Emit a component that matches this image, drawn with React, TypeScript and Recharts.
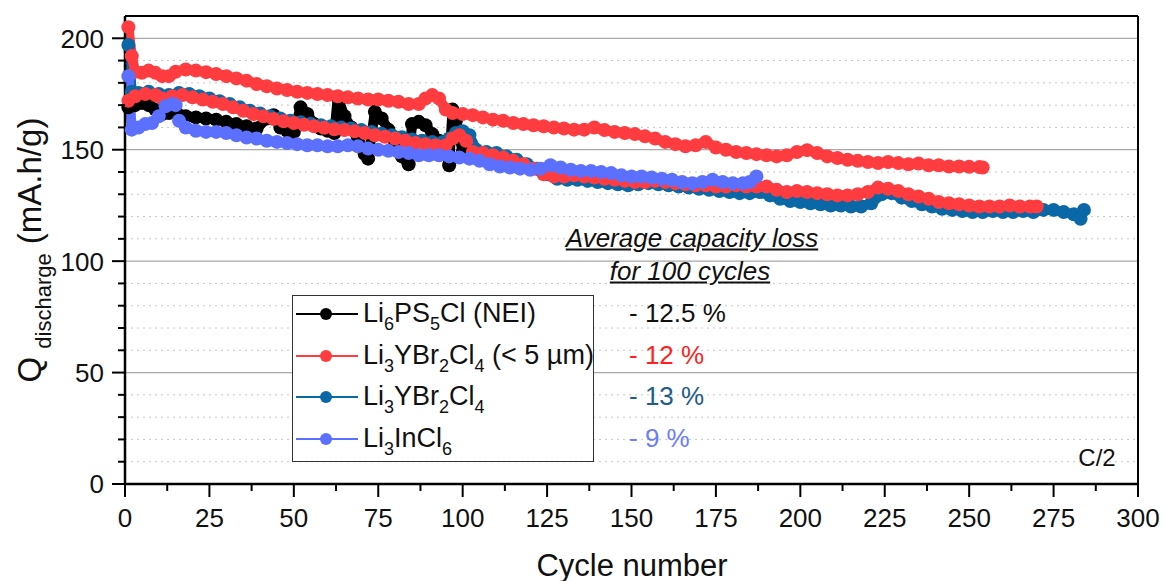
import { LineChart, Line, XAxis, YAxis, ReferenceLine } from 'recharts';

const font = "'Liberation Sans', Arial, Helvetica, sans-serif";

const black = '#000000';
const red = '#ff3c3f';
const blue = '#0a68a6';
const violet = '#5c70ff';

// [cycle, Q discharge mA.h/g]
const nei = [
  [1, 169], [3, 170], [5, 171], [7, 170], [9, 168], [11, 166], [13, 166.5], [15, 167], [18, 165], [21, 164.5],
  [24, 164], [27, 163.5], [30, 162.5], [33, 161.5], [36, 160.5], [39, 159.5], [42, 164], [44, 165.5], [46, 160],
  [48, 158.5], [50, 158], [52, 169], [54, 166], [56, 161.5], [58, 159.5], [60, 158.5], [62, 157.5], [63, 173.5],
  [65, 165], [67, 160], [69, 154], [71, 148], [72, 146], [74, 167], [76, 164], [78, 159], [80, 153], [82, 147],
  [84, 143.5], [85, 161.5], [87, 162.5], [89, 161], [91, 157], [93, 154], [95, 149], [96, 143], [97, 168],
  [98, 163], [99, 156], [100, 149],
];

const ybcFine = [
  [1, 205], [2, 192], [3, 185], [5, 184.5], [7, 185.5], [9, 184.5], [11, 183], [13, 183], [15, 185], [18, 186],
  [21, 185.5], [24, 184.8], [27, 184], [30, 183], [33, 182], [36, 181], [39, 179.5], [42, 178.5], [45, 177.5],
  [48, 176.8], [51, 176], [54, 175.5], [57, 175], [60, 174.5], [63, 174], [66, 173.5], [69, 173], [72, 172.5],
  [75, 172.5], [78, 172], [81, 171.5], [84, 170.5], [87, 170.5], [89, 173], [91, 174.5], [93, 173], [95, 168],
  [97, 166.5], [100, 166], [103, 165.5], [106, 164.5], [109, 163.5], [112, 163], [115, 162], [118, 161.5],
  [121, 161], [124, 160.5], [127, 160], [130, 159.5], [133, 159], [136, 159], [139, 160], [142, 158.8], [145, 158],
  [148, 157.5], [151, 157], [154, 156], [157, 155], [160, 153.5], [163, 152.5], [166, 151.5], [169, 152],
  [172, 153.5], [175, 151], [178, 150], [181, 149], [184, 148.5], [187, 148], [190, 147.5], [193, 147],
  [196, 147.5], [199, 149], [202, 149.8], [205, 148.5], [208, 147], [211, 146.3], [214, 145.5], [217, 145],
  [220, 144.5], [223, 144], [226, 144.5], [229, 144], [232, 143.5], [235, 143.8], [238, 143], [241, 143],
  [244, 142.5], [247, 142.5], [250, 142.3], [253, 142.2], [254, 142],
];

const ybcFine2 = [
  [1, 172], [3, 174], [6, 175], [9, 174.5], [11, 173], [14, 174], [17, 174.5], [20, 173.5], [23, 172.5],
  [26, 171.5], [29, 170.5], [32, 169], [35, 167.5], [38, 166], [41, 165], [44, 163.8], [47, 162.8], [50, 162],
  [53, 161.2], [56, 160.5], [59, 159.8], [62, 159.2], [65, 158.8], [68, 158.3], [71, 157.5], [74, 156.5],
  [77, 155.8], [80, 155], [83, 154], [86, 153], [89, 152.5], [92, 152], [95, 152], [97, 155], [99, 156.5],
  [101, 154], [103, 149], [106, 148.5], [109, 147.5], [112, 146.5], [115, 145], [118, 143.5], [121, 141.5],
  [124, 139], [127, 138], [130, 138], [133, 138.5], [136, 138], [139, 137.5], [142, 137], [145, 136.5],
  [148, 136], [151, 135.5], [154, 135.5], [157, 136], [160, 135.5], [163, 135], [166, 134.5], [169, 134],
  [172, 134], [175, 133.5], [178, 133.5], [181, 134], [184, 133.5], [187, 133.5], [190, 133.5], [193, 132],
  [196, 131], [199, 131.5], [202, 131], [205, 130.5], [208, 130], [211, 129.5], [214, 129.5], [217, 130],
  [220, 131], [223, 133], [226, 132.5], [229, 131.5], [232, 130], [235, 129], [238, 128], [241, 126.5],
  [244, 126], [247, 125.5], [250, 125], [253, 124.5], [256, 124.5], [259, 124.5], [262, 125], [265, 124.5],
  [268, 124.5], [270, 124.5],
];

const ybc = [
  [1, 197], [2, 176], [4, 175.5], [7, 176], [10, 175], [13, 174.5], [16, 175.5], [19, 175], [22, 174], [25, 173],
  [28, 171.8], [31, 170.5], [34, 169], [37, 167.5], [40, 166.3], [43, 165], [46, 164], [49, 163], [52, 162.3],
  [55, 161.7], [58, 161], [61, 160.5], [64, 160], [67, 159.5], [70, 158.8], [73, 158], [76, 157.2], [79, 156.5],
  [82, 155.6], [85, 154.6], [88, 154], [91, 153.5], [94, 153.3], [96, 155], [98, 157.5], [100, 158.3],
  [102, 156.5], [104, 150], [107, 149], [110, 148.5], [113, 147], [116, 145.5], [119, 143.5], [122, 141.5],
  [125, 139], [128, 137], [131, 136.5], [134, 136.5], [137, 136], [140, 135.5], [143, 135], [146, 134.5],
  [149, 134], [152, 134.5], [155, 135], [158, 134.5], [161, 134], [164, 133.5], [167, 133], [170, 132.5],
  [173, 132], [176, 131.5], [179, 131], [182, 130.5], [185, 130.5], [188, 131], [191, 129.5], [194, 128],
  [197, 127], [200, 126.5], [203, 126], [206, 125.5], [209, 125], [212, 125], [215, 124.5], [218, 124.5],
  [221, 126], [224, 130], [227, 130.5], [230, 128.5], [233, 127], [236, 125.5], [239, 124.5], [242, 123.5],
  [245, 123], [248, 122.5], [251, 122], [254, 122], [257, 122.5], [260, 122], [263, 122], [266, 122.5],
  [269, 122], [272, 123], [275, 123], [278, 122], [281, 121], [283, 119], [284, 123],
];

const inCl = [
  [1, 183], [2, 159], [4, 160], [6, 161.5], [8, 162], [10, 165], [12, 169.5], [14, 170.5], [15, 170], [16, 163],
  [18, 160], [21, 158.5], [24, 158], [27, 158], [30, 157.5], [33, 156.5], [36, 155.5], [39, 155], [42, 154],
  [45, 153.5], [48, 153], [51, 152.5], [54, 152], [57, 152], [60, 151.5], [63, 151.5], [66, 152], [69, 151.5],
  [72, 150.5], [75, 150], [78, 149.5], [81, 149], [84, 148.5], [87, 147.5], [90, 147.5], [93, 147.5], [96, 147],
  [99, 146.5], [102, 146], [105, 145], [108, 143.5], [111, 142.5], [114, 142], [117, 141.5], [120, 141],
  [123, 141.5], [126, 143], [129, 142], [132, 141], [135, 140.5], [138, 140.5], [141, 140], [144, 139.5],
  [147, 138.5], [150, 138], [153, 138], [156, 137.5], [159, 137], [162, 136.5], [165, 135.5], [168, 135],
  [171, 135.5], [174, 136.5], [177, 135.5], [180, 135], [183, 135], [185, 135.5], [187, 138],
];

const xTicks = [0, 12.5, 25, 37.5, 50, 62.5, 75, 87.5, 100, 112.5, 125, 137.5, 150, 162.5, 175, 187.5, 200, 212.5, 225, 237.5, 250, 262.5, 275, 287.5, 300];
const yTicks = [0, 10, 20, 30, 40, 50, 60, 70, 80, 90, 100, 110, 120, 130, 140, 150, 160, 170, 180, 190, 200];
const majorGrid = [50, 100, 150, 200];
const minorGrid = [10, 20, 30, 40, 60, 70, 80, 90, 110, 120, 130, 140, 160, 170, 180, 190];

const legendLabels = ['Li_6PS_5Cl (NEI)', 'Li_3YBr_2Cl_4 (< 5 µm)', 'Li_3YBr_2Cl_4', 'Li_3InCl_6'];
const legendColors = [black, red, blue, violet];
const lossLabels = ['- 12.5 %', '- 12 %', '- 13 %', '- 9 %'];
const lossColors = ['#111111', '#ff1f1f', '#1d5d88', '#6b7cff'];

const toRows = (pts: number[][]) => pts.map(([c, q]) => ({ c, q }));

function XTick(props: any) {
  const { x, y, payload } = props;
  const v = payload.value;
  const major = v % 25 === 0;
  return (
    <g>
      <line x1={x} x2={x} y1={y} y2={y + (major ? 13 : 7)} stroke="#000" strokeWidth={2} />
      {major && (
        <text x={x} y={y + 43} textAnchor="middle" fontSize={26} fontFamily={font} fill="#111">
          {v}
        </text>
      )}
    </g>
  );
}

function YTick(props: any) {
  const { x, y, payload } = props;
  const v = payload.value;
  const major = v % 50 === 0;
  return (
    <g>
      <line x1={x - (major ? 13 : 7)} x2={x} y1={y} y2={y} stroke="#000" strokeWidth={2} />
      {major && (
        <text x={x - 21} y={y} dy="0.36em" textAnchor="end" fontSize={26} fontFamily={font} fill="#111">
          {v}
        </text>
      )}
    </g>
  );
}

function Chem({ text, size, sub }: { text: string; size: number; sub: number }) {
  const parts = text.split(/_(\d)/);
  return (
    <>
      {parts.map((p, i) =>
        i % 2 === 1 ? (
          <span key={i} style={{ fontSize: sub, position: 'relative', top: 8 }}>{p}</span>
        ) : (
          <span key={i} style={{ fontSize: size }}>{p}</span>
        )
      )}
    </>
  );
}

// thick stroke + big markers so the per-cycle points merge into a band, as in the original plot
function series(data: number[][], color: string) {
  return (
    <Line
      data={toRows(data)}
      dataKey="q"
      type="linear"
      stroke={color}
      strokeWidth={10}
      strokeLinejoin="round"
      strokeLinecap="round"
      dot={{ r: 7, fill: color, stroke: color, strokeWidth: 0 }}
      activeDot={false}
      isAnimationActive={false}
    />
  );
}

export default function App() {
  return (
    <div style={{ position: 'absolute', left: 0, top: 0, width: 1166, height: 581, background: '#fff', fontFamily: font, color: '#111' }}>
      <LineChart width={1166} height={581} margin={{ top: 16, right: 28, left: 0, bottom: 0 }}>
        <XAxis
          dataKey="c"
          type="number"
          domain={[0, 300]}
          ticks={xTicks}
          interval={0}
          height={97}
          tickSize={0}
          tickMargin={0}
          tickLine={false}
          tick={<XTick />}
          axisLine={{ stroke: '#000', strokeWidth: 2.5 }}
          allowDuplicatedCategory={false}
        />
        <YAxis
          type="number"
          domain={[0, 210]}
          ticks={yTicks}
          interval={0}
          width={125}
          tickSize={0}
          tickMargin={0}
          tickLine={false}
          tick={<YTick />}
          axisLine={{ stroke: '#000', strokeWidth: 2.5 }}
        />
        {minorGrid.map((v) => (
          <ReferenceLine key={'m' + v} y={v} stroke="#c8c8c8" strokeWidth={1} strokeDasharray="2 4" />
        ))}
        {majorGrid.map((v) => (
          <ReferenceLine key={'M' + v} y={v} stroke="#a9a9a9" strokeWidth={1.2} />
        ))}
        {series(nei, black)}
        {series(ybc, blue)}
        {series(ybcFine2, red)}
        {series(ybcFine, red)}
        {series(inCl, violet)}
        <ReferenceLine y={210} stroke="#000" strokeWidth={2} />
        <ReferenceLine x={300} stroke="#000" strokeWidth={2} />
      </LineChart>

      <div
        style={{
          position: 'absolute',
          left: 32,
          top: 250,
          transform: 'translate(-50%, -50%) rotate(-90deg)',
          whiteSpace: 'nowrap',
          fontSize: 33,
          lineHeight: '40px',
        }}
      >
        Q<span style={{ fontSize: 22, position: 'relative', top: 10, marginLeft: 8 }}>discharge</span> (mA.h/g)
      </div>

      <div style={{ position: 'absolute', left: 632, top: 566, transform: 'translate(-50%, -50%)', fontSize: 31, whiteSpace: 'nowrap' }}>
        Cycle number
      </div>

      <div
        style={{
          position: 'absolute',
          left: 292,
          top: 295,
          width: 300,
          height: 165,
          border: '1.5px solid #333',
          background: '#fff',
        }}
      >
        {legendLabels.map((l, i) => (
          <div key={l} style={{ position: 'absolute', left: 0, top: 18 + i * 41.7 - 20, height: 40, width: 300 }}>
            <div style={{ position: 'absolute', left: 3, top: 19, width: 62, height: 2, background: legendColors[i] }} />
            <div style={{ position: 'absolute', left: 27, top: 14, width: 12, height: 12, borderRadius: 6, background: legendColors[i] }} />
            <div style={{ position: 'absolute', left: 70, top: 4, lineHeight: '30px', whiteSpace: 'nowrap' }}>
              <Chem text={l} size={27} sub={18} />
            </div>
          </div>
        ))}
      </div>

      {lossLabels.map((l, i) => (
        <div
          key={l}
          style={{ position: 'absolute', left: 629, top: 313 + i * 41.7, transform: 'translateY(-50%)', fontSize: 26, color: lossColors[i], whiteSpace: 'nowrap' }}
        >
          {l}
        </div>
      ))}

      <div style={{ position: 'absolute', left: 692, top: 238, transform: 'translate(-50%, -50%)', fontSize: 26, fontStyle: 'italic', textDecoration: 'underline', whiteSpace: 'nowrap' }}>
        Average capacity loss
      </div>
      <div style={{ position: 'absolute', left: 690, top: 271, transform: 'translate(-50%, -50%)', fontSize: 26, fontStyle: 'italic', textDecoration: 'underline', whiteSpace: 'nowrap' }}>
        for 100 cycles
      </div>
      <div style={{ position: 'absolute', left: 1097, top: 458, transform: 'translate(-50%, -50%)', fontSize: 24, whiteSpace: 'nowrap' }}>
        C/2
      </div>
    </div>
  );
}
